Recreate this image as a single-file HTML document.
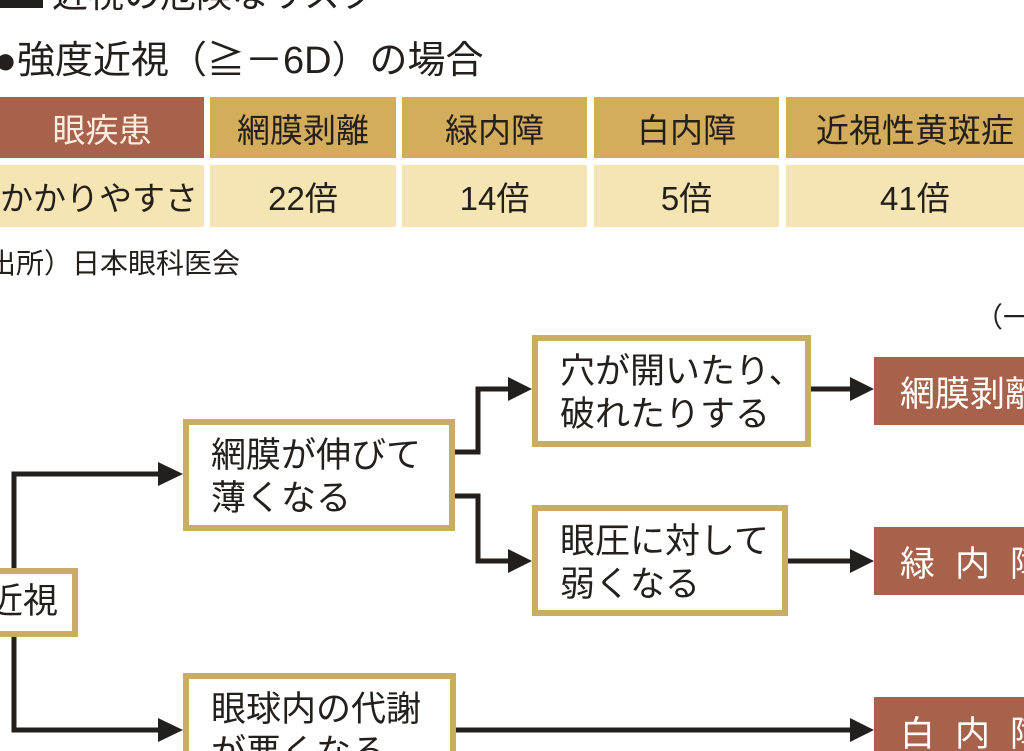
<!DOCTYPE html>
<html><head><meta charset="utf-8"><style>
html,body{margin:0;width:1024px;height:751px;overflow:hidden}
body{background:#fff;font-family:"Liberation Sans","Noto Sans CJK JP",sans-serif;color:#231f1c;position:relative}
.a{position:absolute;white-space:nowrap}
.c{position:absolute;display:flex;align-items:center;justify-content:center;font-size:33px}
.box{position:absolute;box-sizing:border-box;border:6px solid #c9ad62;background:#fff;font-size:35px;line-height:43px;padding:9px 0 0 22px;white-space:nowrap}
.br{position:absolute;background:#a8614a;color:#fff;font-size:35px;display:flex;align-items:center;padding-left:26px;box-sizing:border-box;white-space:nowrap}
</style></head><body>
<div class="a" style="left:0;top:-12px;width:43px;height:20px;background:#231f1c"></div>
<div class="a" style="left:52px;top:-34px;font-size:36px">近視の危険なリスク</div>
<div class="a" style="left:-6px;top:29px;font-size:38px">●強度近視（≧－6D）の場合</div>

<div class="c" style="left:0;top:97px;width:204px;height:61px;background:#a8614a;color:#fbeee0">眼疾患</div>
<div class="c" style="left:210px;top:97px;width:186px;height:61px;background:#d3ad5c">網膜剥離</div>
<div class="c" style="left:402px;top:97px;width:185px;height:61px;background:#d3ad5c">緑内障</div>
<div class="c" style="left:594px;top:97px;width:185px;height:61px;background:#d3ad5c">白内障</div>
<div class="c" style="left:786px;top:97px;width:260px;height:61px;background:#d3ad5c;justify-content:flex-start;padding-left:30px;box-sizing:border-box">近視性黄斑症</div>
<div class="c" style="left:0;top:165px;width:204px;height:62px;background:#f5e5b2;justify-content:flex-start">かかりやすさ</div>
<div class="c" style="left:210px;top:165px;width:186px;height:62px;background:#f5e5b2">22倍</div>
<div class="c" style="left:402px;top:165px;width:185px;height:62px;background:#f5e5b2">14倍</div>
<div class="c" style="left:594px;top:165px;width:185px;height:62px;background:#f5e5b2">5倍</div>
<div class="c" style="left:786px;top:165px;width:260px;height:62px;background:#f5e5b2;justify-content:flex-start;padding-left:94px;box-sizing:border-box">41倍</div>
<div class="a" style="left:-12px;top:242px;font-size:28px">出所）日本眼科医会</div>
<div class="a" style="left:975px;top:296px;font-size:28px">（一般</div>

<svg class="a" style="left:0;top:0" width="1024" height="751">
<g stroke="#231f1c" stroke-width="5" fill="none">
<polyline points="14,568 14,474 160,474"/>
<polyline points="14,637 14,730 160,730"/>
<polyline points="455,452 478,452 478,389 510,389"/>
<polyline points="455,496 478,496 478,561 510,561"/>
<line x1="811" y1="389" x2="852" y2="389"/>
<line x1="788" y1="561" x2="852" y2="561"/>
<line x1="456" y1="730" x2="852" y2="730"/>
</g>
<g fill="#231f1c">
<polygon points="158,462 183,474 158,486"/>
<polygon points="158,718 183,730 158,742"/>
<polygon points="508,377 532,389 508,401"/>
<polygon points="508,549 532,561 508,573"/>
<polygon points="850,377 874,389 850,401"/>
<polygon points="850,549 874,561 850,573"/>
<polygon points="850,718 874,730 850,742"/>
</g>
</svg>

<div class="box" style="left:-48px;top:568px;width:126px;height:69px;padding:6px 0 0 30px">近視</div>
<div class="box" style="left:183px;top:419px;width:272px;height:112px">網膜が伸びて<br>薄くなる</div>
<div class="box" style="left:183px;top:673px;width:273px;height:112px">眼球内の代謝<br>が悪くなる</div>
<div class="box" style="left:532px;top:335px;width:279px;height:112px">穴が開いたり、<br>破れたりする</div>
<div class="box" style="left:532px;top:505px;width:256px;height:111px">眼圧に対して<br>弱くなる</div>
<div class="br" style="left:874px;top:357px;width:160px;height:68px">網膜剥離</div>
<div class="br" style="left:874px;top:527px;width:160px;height:68px;letter-spacing:20px">緑内障</div>
<div class="br" style="left:874px;top:697px;width:160px;height:68px;letter-spacing:20px">白内障</div>
</body></html>
